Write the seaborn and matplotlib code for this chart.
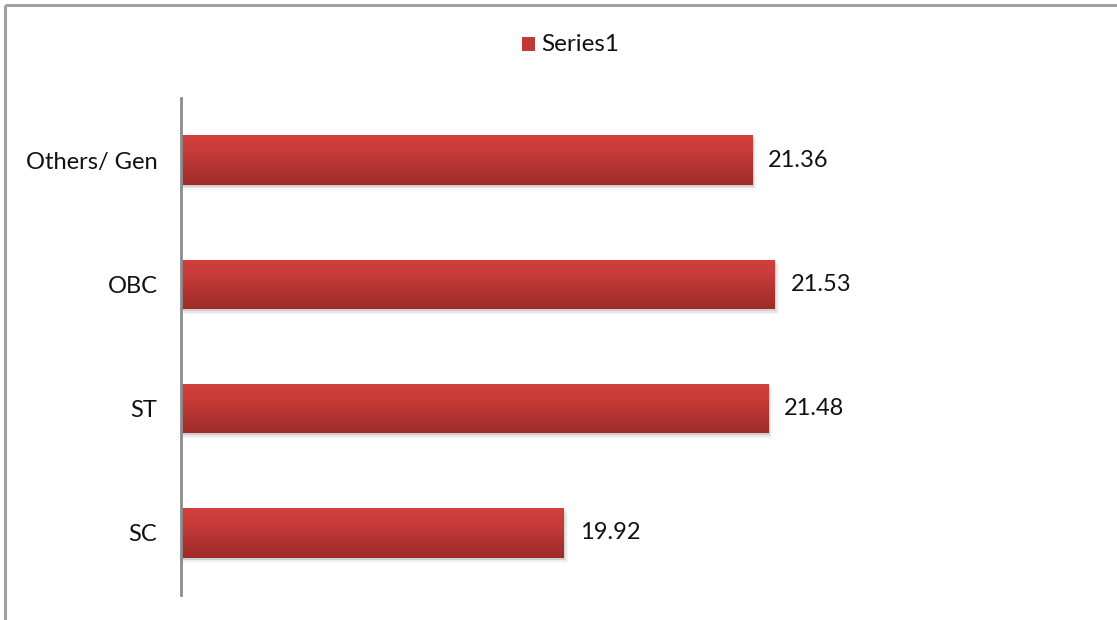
import numpy as np
import pandas as pd
import matplotlib
matplotlib.use("Agg")
import matplotlib.pyplot as plt
from matplotlib.colors import LinearSegmentedColormap
from matplotlib.patches import Rectangle
import seaborn as sns

categories = ["Others/ Gen", "OBC", "ST", "SC"]
values = [21.36, 21.53, 21.48, 19.92]
series_name = "Series1"

sns.set_theme(style="white")
plt.rcParams["font.family"] = ["Lato", "DejaVu Sans"]

W, H = 1117, 620
fig = plt.figure(figsize=(W / 100, H / 100), dpi=100)
fig.patch.set_facecolor("white")

# outer chart border (top and left edges visible)
border = fig.add_axes([0, 0, 1, 1], zorder=-5)
border.set_xlim(0, W)
border.set_ylim(H, 0)
border.axis("off")
border.plot([5, W], [5, 5], color="#a0a0a0", lw=2.2, solid_capstyle="butt")
border.plot([5, 5], [5, H], color="#a0a0a0", lw=2.2, solid_capstyle="butt")

x_min, x_max = 17, 22
left_px, right_px = 181, 836.5
top_px, bottom_px = 98, 595
ax = fig.add_axes([left_px / W, (H - bottom_px) / H,
                   (right_px - left_px) / W, (bottom_px - top_px) / H])

df = pd.DataFrame({"category": categories, "value": values})
sns.barplot(data=df, x="value", y="category", orient="h", width=0.4,
            color="#c0392f", ax=ax, zorder=2)
ax.set_xlim(x_min, x_max)
ax.set_ylim(len(categories) - 0.5, -0.5)

# vertical gradient fill plus soft drop shadow for each bar
cmap = LinearSegmentedColormap.from_list(
    "barfill", ["#d1403d", "#c73b38", "#b03330", "#9e2b29"])
grad = np.linspace(0, 1, 256).reshape(-1, 1)
for patch in list(ax.patches):
    y0 = patch.get_y()
    h = patch.get_height()
    x1 = patch.get_x() + patch.get_width()
    patch.set_facecolor("none")
    patch.set_edgecolor("none")
    for k, a in enumerate([0.10, 0.06, 0.03]):
        off = 0.015 + k * 0.012
        sh = Rectangle((x_min, y0 + off), x1 - x_min + 0.01 + 0.012 * k, h,
                       facecolor="black", alpha=a, edgecolor="none", zorder=1)
        ax.add_patch(sh)
    img = ax.imshow(grad, cmap=cmap, aspect="auto",
                    extent=[x_min, x1, y0 + h, y0], zorder=3,
                    interpolation="bicubic")
    clip = Rectangle((x_min, y0), x1 - x_min, h, transform=ax.transData)
    img.set_clip_path(clip)

ax.set_xlim(x_min, x_max)
ax.set_ylim(len(categories) - 0.5, -0.5)

for i, v in enumerate(values):
    ax.text(v + 0.12, i, f"{v:.2f}", va="center", ha="left",
            fontsize=17, color="#111111", zorder=4)

ax.set_xlabel("")
ax.set_ylabel("")
ax.set_xticks([])
ax.tick_params(axis="y", length=0, pad=17, labelsize=17, labelcolor="#111111")
for side in ["top", "right", "bottom"]:
    ax.spines[side].set_visible(False)
ax.spines["left"].set_color("#8c8c8c")
ax.spines["left"].set_linewidth(2)
ax.spines["left"].set_zorder(5)
ax.set_facecolor("none")

# legend entry at top
border.add_patch(Rectangle((522, 37), 13, 14, facecolor="#c23a36",
                           edgecolor="none"))
border.text(541, 44.5, series_name, va="center", ha="left", fontsize=17.5,
            color="#111111")

fig.savefig("out.png", dpi=100, facecolor="white")
